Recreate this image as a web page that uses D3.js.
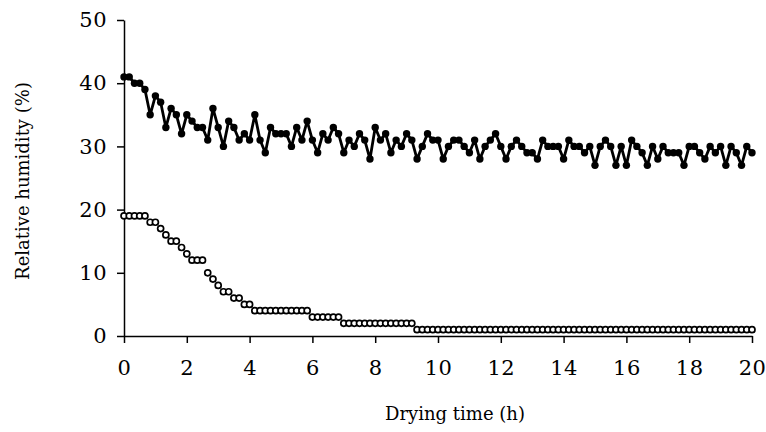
<!DOCTYPE html>
<html>
<head>
<meta charset="utf-8">
<script src="https://cdn.jsdelivr.net/npm/d3@7"></script>
<style>
  body { margin: 0; background: #fff; }
  .axis text { font-family: "DejaVu Serif", serif; font-size: 21px; fill: #000; letter-spacing: 0.5px; }
  .axis path, .axis line { stroke: #000; stroke-width: 1.5; }
  .title { font-family: "DejaVu Serif", serif; font-size: 18px; fill: #000; }
</style>
</head>
<body>
<div class="chart"></div>
<script>
// readings every 10 min over 20 h
const sampleMinutes = 10;

// upper curve (filled dots)
const rhFilled = [
  41, 41, 40, 40, 39, 35, 38, 37, 33, 36, 35, 32, 35, 34, 33, 33, 31, 36, 33, 30,
  34, 33, 31, 32, 31, 35, 31, 29, 33, 32, 32, 32, 30, 33, 31, 34, 31, 29, 32, 31,
  33, 32, 29, 31, 30, 32, 31, 28, 33, 31, 32, 29, 31, 30, 32, 31, 28, 30, 32, 31,
  31, 28, 30, 31, 31, 30, 29, 31, 28, 30, 31, 32, 30, 28, 30, 31, 30, 29, 29, 28,
  31, 30, 30, 30, 28, 31, 30, 30, 29, 30, 27, 30, 31, 30, 27, 30, 27, 31, 30, 29,
  27, 30, 28, 30, 29, 29, 29, 27, 30, 30, 29, 28, 30, 29, 30, 27, 30, 29, 27, 30,
  29
];

// lower curve (open dots)
const rhOpen = [
  19, 19, 19, 19, 19, 18, 18, 17, 16, 15, 15, 14, 13, 12, 12, 12, 10, 9, 8, 7,
  7, 6, 6, 5, 5, 4, 4, 4, 4, 4, 4, 4, 4, 4, 4, 4, 3, 3, 3, 3,
  3, 3, 2, 2, 2, 2, 2, 2, 2, 2, 2, 2, 2, 2, 2, 2, 1, 1, 1, 1,
  1, 1, 1, 1, 1, 1, 1, 1, 1, 1, 1, 1, 1, 1, 1, 1, 1, 1, 1, 1,
  1, 1, 1, 1, 1, 1, 1, 1, 1, 1, 1, 1, 1, 1, 1, 1, 1, 1, 1, 1,
  1, 1, 1, 1, 1, 1, 1, 1, 1, 1, 1, 1, 1, 1, 1, 1, 1, 1, 1, 1,
  1
];

const xTicks = [0, 2, 4, 6, 8, 10, 12, 14, 16, 18, 20];
const yTicks = [0, 10, 20, 30, 40, 50];

const margin = { top: 20, right: 14, bottom: 96, left: 124 },
    width = 766 - margin.left - margin.right,
    height = 432 - margin.top - margin.bottom;

const x = d3.scaleLinear().domain([0, 20]).range([0, width]);
const y = d3.scaleLinear().domain([0, 50]).range([height, 0]);

const svg = d3.select(".chart").append("svg")
    .attr("width", 766)
    .attr("height", 432)
  .append("g")
    .attr("transform", "translate(" + margin.left + "," + margin.top + ")");

const t = i => i * sampleMinutes / 60;

svg.append("g")
    .attr("class", "axis")
    .call(d3.axisLeft(y).tickValues(yTicks).tickSize(7).tickSizeOuter(0).tickPadding(10));

svg.append("g")
    .attr("class", "axis")
    .attr("transform", "translate(0," + height + ")")
    .call(d3.axisBottom(x).tickValues(xTicks).tickSize(7).tickSizeOuter(0).tickPadding(17));

// filled series: line + dots
const line = d3.line().x((d, i) => x(t(i))).y(d => y(d));

svg.append("path")
    .datum(rhFilled)
    .attr("fill", "none")
    .attr("stroke", "#000")
    .attr("stroke-width", 2.8)
    .attr("stroke-linejoin", "round")
    .attr("d", line);

svg.selectAll(".dot-f")
    .data(rhFilled)
    .enter().append("circle")
    .attr("class", "dot-f")
    .attr("cx", (d, i) => x(t(i)))
    .attr("cy", d => y(d))
    .attr("r", 3.7)
    .attr("fill", "#000");

svg.selectAll(".dot-o")
    .data(rhOpen)
    .enter().append("circle")
    .attr("class", "dot-o")
    .attr("cx", (d, i) => x(t(i)))
    .attr("cy", d => y(d))
    .attr("r", 3)
    .attr("fill", "#fff")
    .attr("stroke", "#000")
    .attr("stroke-width", 1.7);

// axis titles
svg.append("text")
    .attr("class", "title")
    .attr("x", 455 - margin.left)
    .attr("y", 414 - margin.top)
    .attr("dy", "0.35em")
    .style("text-anchor", "middle")
    .text("Drying time (h)");

svg.append("text")
    .attr("class", "title")
    .attr("transform", "translate(" + (23 - margin.left) + "," + (181 - margin.top) + ") rotate(-90)")
    .attr("dy", "0.35em")
    .style("text-anchor", "middle")
    .text("Relative humidity (%)");
</script>
</body>
</html>
